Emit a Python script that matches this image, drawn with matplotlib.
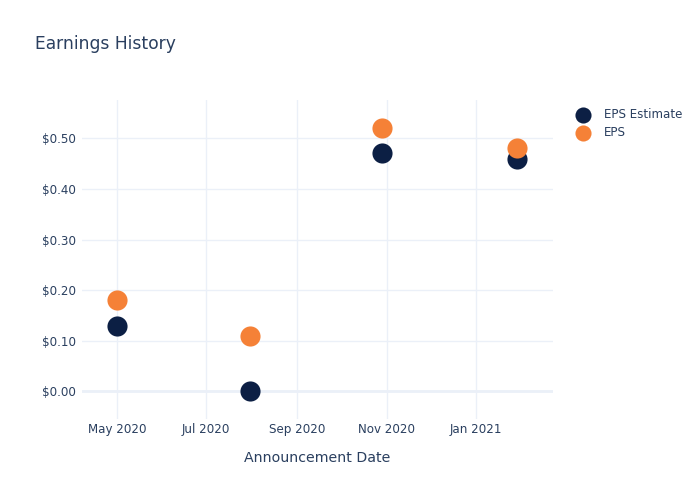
import matplotlib
matplotlib.use('Agg')
import matplotlib.pyplot as plt
import matplotlib.dates as mdates
import pandas as pd

# data
dates = pd.to_datetime(['2020-05-01', '2020-07-31', '2020-10-29', '2021-01-29'])
eps_estimate = [0.13, 0.00, 0.47, 0.46]
eps_actual = [0.18, 0.11, 0.52, 0.48]

text_col = '#2a3f5f'
grid_col = '#ebf0f8'
navy = '#0c1f44'
orange = '#f58137'

fig = plt.figure(figsize=(7, 5), dpi=100)
ax = fig.add_axes([0.117, 0.162, 0.673, 0.638])

ax.scatter(dates, eps_estimate, s=210, color=navy, label='EPS Estimate', zorder=3, linewidths=0)
ax.scatter(dates, eps_actual, s=210, color=orange, label='EPS', zorder=4, linewidths=0)

ax.set_ylim(-0.0547, 0.5757)
ax.set_xlim(pd.Timestamp('2020-04-07 05:00'), pd.Timestamp('2021-02-22 10:00'))

ax.set_yticks([0, 0.1, 0.2, 0.3, 0.4, 0.5])
ax.yaxis.set_major_formatter(plt.FuncFormatter(lambda v, p: '$%.2f' % v))
ax.xaxis.set_major_locator(mdates.MonthLocator(bymonth=[1, 3, 5, 7, 9, 11]))
ax.xaxis.set_major_formatter(mdates.DateFormatter('%b %Y'))

ax.grid(True, color=grid_col, linewidth=1, zorder=0)
ax.axhline(0, color=grid_col, linewidth=2, zorder=1)
ax.set_axisbelow(True)
for s in ax.spines.values():
    s.set_visible(False)
ax.tick_params(length=0, labelsize=8.6, colors=text_col, pad=3)
ax.tick_params(axis='y', pad=4)

ax.set_xlabel('Announcement Date', fontsize=10.2, color=text_col, labelpad=10.5)
fig.text(0.05, 0.912, 'Earnings History', fontsize=12.3, color=text_col, va='center')

leg = ax.legend(loc='upper left', bbox_to_anchor=(0.818, 0.793), bbox_transform=fig.transFigure,
                frameon=False, fontsize=8.6, handletextpad=1.2, labelspacing=0.4,
                borderaxespad=0, handlelength=1.0, markerscale=0.8)
for t in leg.get_texts():
    t.set_color(text_col)

fig.savefig('out.png', dpi=100)
